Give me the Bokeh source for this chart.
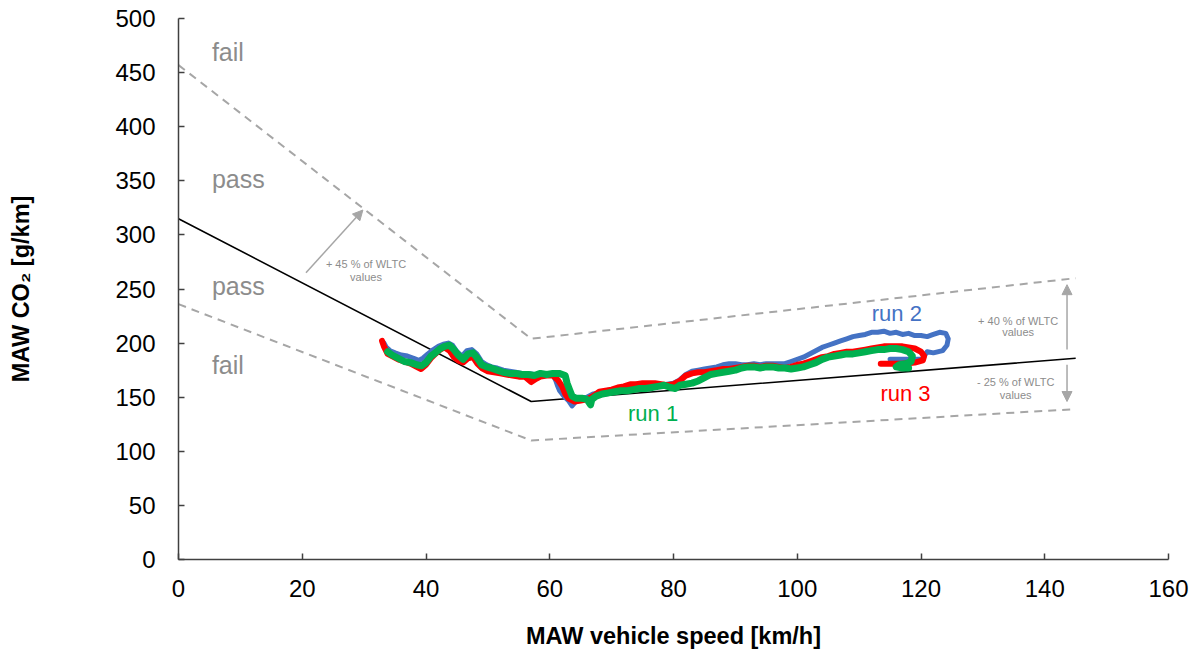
from bokeh.plotting import figure
from bokeh.models import Range1d, Label, Arrow, NormalHead, FixedTicker
from bokeh.embed import file_html
from bokeh.resources import INLINE

# ---------------- data ----------------
x_ticks = [0, 20, 40, 60, 80, 100, 120, 140, 160]
y_ticks = [0, 50, 100, 150, 200, 250, 300, 350, 400, 450, 500]

speed_knots = [0, 57, 145]
wltc_co2 = [315, 146, 186]          # WLTC reference line
upper_limit = [457, 204, 260]       # +45 % / +40 %
lower_limit = [236, 110, 139]       # -25 %

run2_x = [33.2, 33.6, 34.2, 35, 36, 37, 38, 38.8, 39.5, 40.3, 41.2, 42, 42.8, 43.6, 44.3, 45, 45.8, 46.6, 47.4, 48.2,
          49, 49.8, 50.6, 51.5, 52.5, 53.5, 54.5, 55.5, 56.5, 57.5, 58.5, 59.5, 60.5, 61, 61.3, 61.6, 62.3, 63, 63.6, 64.2,
          65, 66, 67, 68, 69, 70, 71, 72, 73, 74, 75, 76, 77, 78, 79, 80, 81, 82, 83, 84,
          85, 86, 87, 88, 89, 90, 91, 92, 93, 94, 95, 96, 97, 98, 99, 100, 101, 102, 103, 104,
          105, 106, 107, 108, 109, 110, 111, 112, 113, 114, 115, 116, 117, 118, 119, 120, 121, 122, 123, 124,
          124.4, 124.2, 123.5, 122, 121, 120.5, 120.2, 119, 117, 115]
run2_y = [200, 196, 193, 191, 189, 188, 186, 184, 186, 190, 194, 197, 199, 200, 198, 192, 188, 193, 194, 190,
          183, 180, 178, 177, 175, 174, 173, 172, 172, 171, 171, 172, 171, 165, 160, 156, 151, 147, 142, 146,
          149, 150, 153, 154, 156, 157, 158, 159, 160, 162, 162, 161, 160, 160, 162, 163, 166, 171, 174, 175,
          176, 177, 178, 180, 181, 181, 180, 180, 181, 180, 181, 181, 181, 181, 183, 185, 187, 190, 193, 196,
          198, 200, 202, 204, 206, 207, 208, 210, 210, 211, 209, 210, 208, 209, 207, 207, 206, 208, 210, 209,
          204, 198, 193, 191, 192, 188, 185, 185, 185, 185]

run3_x = [32.9, 33.2, 33.8, 34.5, 35.5, 36.5, 37.5, 38.5, 39.2, 40, 40.8, 41.5, 42.3, 43, 43.8, 44.5, 45.2, 46, 46.8, 47.6,
          48.3, 49, 50, 51, 52, 53, 54, 55, 56, 57, 57.8, 58.5, 59.5, 60.5, 61.3, 62, 62.5, 63, 64, 65,
          66, 67, 68, 69, 70, 71, 72, 73, 74, 75, 76, 77, 78, 79, 80, 81, 82, 83, 84, 85,
          86, 87, 88, 89, 90, 91, 92, 93, 94, 95, 96, 97, 98, 99, 100, 101, 102, 103, 104, 105,
          106, 107, 108, 109, 110, 111, 112, 113, 114, 115, 116, 117, 118, 119, 120, 120.5, 120.3, 119, 117, 115, 113.5]
run3_y = [202, 197, 190, 188, 185, 183, 181, 178, 176, 180, 186, 190, 194, 196, 193, 187, 184, 182, 186, 187,
          181, 177, 174, 173, 172, 171, 170, 169, 169, 164, 167, 169, 170, 170, 166, 160, 153, 149, 146, 147,
          148, 151, 155, 156, 157, 159, 160, 162, 162, 163, 163, 163, 162, 161, 162, 165, 170, 172, 173, 173,
          174, 175, 176, 176, 177, 178, 179, 179, 178, 179, 179, 178, 177, 178, 180, 181, 183, 185, 187, 188,
          190, 191, 192, 192, 193, 194, 195, 196, 197, 197, 197, 197, 196, 195, 192, 188, 184, 182, 181, 181, 181]

run1_x = [33.8, 34.5, 35.5, 36.5, 37.5, 38.5, 39.3, 40, 40.8, 41.5, 42.3, 43, 43.8, 44.5, 45.2, 46, 46.8, 47.6, 48.3, 49,
          49.8, 50.5, 51.5, 52.5, 53.5, 54.5, 55.5, 56.5, 57.5, 58.5, 59.5, 60.5, 61.5, 62.5, 62.8, 63.2, 63.6, 64.3, 65.2, 66,
          66.6, 66.8, 67.5, 68.5, 69.5, 70.5, 71.5, 72.5, 73.5, 74.5, 75.5, 76.5, 77.5, 78.5, 79.5, 80.3, 81, 82, 83, 84,
          85, 86, 87, 88, 89, 90, 91, 92, 93, 94, 95, 96, 97, 98, 99, 100, 101, 102, 103, 104,
          105, 106, 107, 108, 109, 110, 111, 112, 113, 114, 115, 116, 117, 118, 118.6, 118.4, 117.5, 116.5, 116, 117, 118]
run1_y = [192, 189, 186, 183, 182, 180, 179, 182, 188, 191, 195, 197, 198, 194, 189, 185, 190, 191, 186, 180,
          178, 177, 175, 173, 172, 172, 171, 171, 170, 172, 171, 172, 172, 170, 163, 157, 151, 149, 149, 148,
          143, 148, 151, 153, 154, 155, 156, 156, 157, 158, 158, 159, 160, 161, 159, 158, 161, 162, 163, 165,
          168, 171, 172, 173, 174, 175, 177, 178, 178, 177, 178, 178, 177, 177, 176, 177, 178, 180, 182, 185,
          187, 188, 189, 190, 190, 191, 192, 193, 194, 194, 195, 195, 194, 192, 188, 183, 181, 180, 178, 177, 177]

# ---------------- styles ----------------
FONT = "Liberation Sans"
GREY_TXT = "#8c8c8c"
GREY_LINE = "#a6a6a6"
BLUE = "#4472C4"
RED = "#FF0000"
GREEN = "#00B050"

p = figure(frame_width=990, frame_height=541,
           x_range=Range1d(0, 160), y_range=Range1d(0, 500),
           output_backend="svg", toolbar_location=None,
           min_border_left=178, min_border_top=18, min_border_right=22, min_border_bottom=89,
           background_fill_color="white", border_fill_color="white")
p.outline_line_color = None
p.xgrid.visible = False
p.ygrid.visible = False

p.xaxis.ticker = FixedTicker(ticks=x_ticks)
p.yaxis.ticker = FixedTicker(ticks=y_ticks)
for ax in (p.xaxis[0], p.yaxis[0]):
    ax.axis_line_color = "#404040"
    ax.axis_line_width = 1.5
    ax.major_tick_line_color = "#404040"
    ax.major_tick_line_width = 1.5
    ax.major_tick_in = 6
    ax.major_tick_out = 0
    ax.minor_tick_line_color = None
    ax.major_label_text_font = FONT
    ax.major_label_text_font_size = "24px"
    ax.major_label_text_color = "black"
    ax.axis_label_text_font = FONT
    ax.axis_label_text_font_style = "bold"
    ax.axis_label_text_font_size = "23.5px"
    ax.axis_label_text_color = "black"

p.xaxis.axis_label = "MAW vehicle speed [km/h]"
p.yaxis.axis_label = "MAW CO\u2082 [g/km]"
p.xaxis.major_label_standoff = 20
p.yaxis.major_label_standoff = 23
p.xaxis.axis_label_standoff = 23
p.yaxis.axis_label_standoff = 78

# limit lines
p.line(speed_knots, upper_limit, line_color=GREY_LINE, line_width=2, line_dash="8 6")
p.line(speed_knots, lower_limit, line_color=GREY_LINE, line_width=2, line_dash="8 6")
p.line(speed_knots, wltc_co2, line_color="black", line_width=1.6)

# runs
p.line(run2_x, run2_y, line_color=BLUE, line_width=5, line_join="round", line_cap="round")
p.line(run3_x, run3_y, line_color=RED, line_width=6, line_join="round", line_cap="round")
p.line(run1_x, run1_y, line_color=GREEN, line_width=7, line_join="round", line_cap="round")

# arrows
def arrow(x0, y0, x1, y1):
    p.add_layout(Arrow(end=NormalHead(size=10, fill_color=GREY_LINE, line_color=GREY_LINE),
                       x_start=x0, y_start=y0, x_end=x1, y_end=y1,
                       line_color=GREY_LINE, line_width=1.5))

arrow(20.6, 265, 29.8, 323)
arrow(143.6, 194, 143.6, 254)
arrow(143.6, 180, 143.6, 146)

def label(x, y, text, size, color, align="center"):
    p.add_layout(Label(x=x, y=y, text=text, text_font=FONT, text_font_size=size,
                       text_color=color, text_align=align, text_baseline="middle"))

# pass / fail
label(5.4, 468.6, "fail", "25px", GREY_TXT, "left")
label(5.4, 351.3, "pass", "25px", GREY_TXT, "left")
label(5.4, 252.5, "pass", "25px", GREY_TXT, "left")
label(5.4, 179.6, "fail", "25px", GREY_TXT, "left")

# small annotations
label(30.3, 272.8, "+ 45 % of WLTC", "11px", GREY_TXT)
label(30.3, 260.8, "values", "11px", GREY_TXT)
label(135.7, 220.5, "+ 40 % of WLTC", "11px", GREY_TXT)
label(135.7, 210.0, "values", "11px", GREY_TXT)
label(135.3, 163.9, "- 25 % of WLTC", "11px", GREY_TXT)
label(135.3, 151.9, "values", "11px", GREY_TXT)

# run labels
label(116.1, 227.6, "run 2", "22px", BLUE)
label(117.5, 153.7, "run 3", "22px", RED)
label(76.7, 135.3, "run 1", "22px", GREEN)

open("out.html", "w").write(file_html(p, INLINE))
